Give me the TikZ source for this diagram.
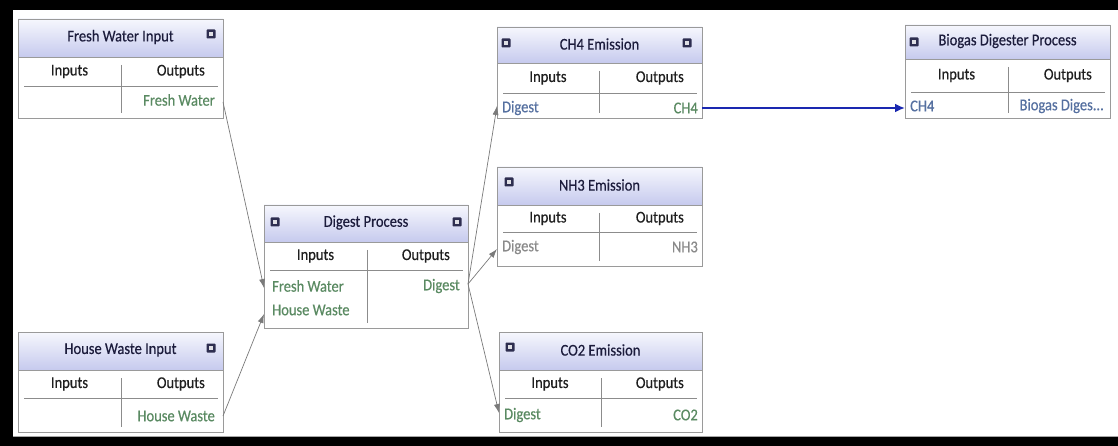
\documentclass[tikz,border=0pt]{standalone}
\usepackage{fontspec}
\setmainfont{Carlito}[FakeStretch=0.88,FakeBold=0.4]
\usetikzlibrary{arrows.meta,fit}
\definecolor{hdrtop}{HTML}{F6F7FD}
\definecolor{hdrbot}{HTML}{C6CAEE}
\definecolor{boxc}{HTML}{9A9A9A}
\definecolor{divc}{HTML}{8C8C8C}
\definecolor{titlec}{HTML}{1C1C3C}
\definecolor{rowg}{HTML}{5A8A62}
\definecolor{rowgray}{HTML}{8A8A8A}
\definecolor{rowb}{HTML}{5570A0}
\definecolor{iconc}{HTML}{2E2E50}
\definecolor{connc}{HTML}{7A7A7A}
\definecolor{bluec}{HTML}{1A28B0}
\tikzset{
  txt/.style={inner sep=0pt, font=\fontsize{16.5}{19}\selectfont},
  titletxt/.style={txt, text=titlec},
  coltxt/.style={txt, text=black!88},
  rowtxt/.style={txt, text=rowg},
  boxframe/.style={draw=boxc, line width=0.9pt, inner sep=0pt},
  divline/.style={draw=divc, line width=0.9pt},
  conn/.style={draw=connc, line width=0.7pt, -{Latex[length=9pt,width=6pt]}},
  bigconn/.style={draw=bluec, line width=2.4pt, -{Latex[length=10pt,width=9pt]}}
}
\newcommand\pbox[9]{%
  \fill[white] (#2,#3) rectangle (#4,#5);
  \fill[top color=hdrtop,bottom color=hdrbot] (#2,#3) rectangle (#4,#6);
  \draw[boxframe] (#2,#6) -- (#4,#6);
  \node[boxframe, fit={(#2,#3) (#4,#5)}] (#1) {};
  \node[titletxt] (#1-t) at ({(#2+#4)/2},{(#3+#6)/2-1}) {#9};
  \draw[divline] (#2+6,#7) -- (#4-5,#7);
  \draw[divline] (#8,#6+8) -- (#8,#5-5);
  \node[coltxt] (#1-i) at ({(#2+#8)/2},{(#6+#7)/2}) {Inputs};
  \node[coltxt, anchor=east] (#1-o) at (#4-18,{(#6+#7)/2}) {Outputs};
}
\newcommand\boxicon[2]{%
  \fill[iconc, rounded corners=0.8pt] (#1-4.5,#2-4.5) rectangle (#1+4.5,#2+4.5);
  \fill[white!85!iconc] (#1-2,#2-2) rectangle (#1+2,#2+2);
}
\begin{document}
\begin{tikzpicture}[x=1pt,y=-1pt]
\useasboundingbox (0,0) rectangle (1118,446);
\fill[black] (0,0) rectangle (1118,446);
\fill[white] (13,10) rectangle (1118,437);
\draw[gray!70, line width=0.8pt] (13,436) -- (1118,436);

% boxes
\pbox{fwi}{18}{19}{223}{118}{57}{86}{121}{Fresh Water Input}
\pbox{hwi}{18}{332}{223}{432}{370}{398}{121}{House Waste Input}
\pbox{dp}{264}{205}{468}{328}{242}{270}{367}{Digest Process}
\pbox{ch}{497}{27}{702}{118}{63}{93}{599}{CH4 Emission}
\pbox{nh}{497}{167}{702}{266}{205}{232}{599}{NH3 Emission}
\pbox{co}{499}{332}{702}{432}{370}{398}{601}{CO2 Emission}
\pbox{bg}{905}{25}{1110}{118}{59}{92}{1008}{Biogas Digester Process}

% icons
\boxicon{211}{34}
\boxicon{211}{348}
\boxicon{275}{222}
\boxicon{457}{222}
\boxicon{506}{43}
\boxicon{687}{43}
\boxicon{509}{182}
\boxicon{510}{347}
\boxicon{914}{42}

% row texts
\node[rowtxt, anchor=east] (fwi-r1) at (215,100) {Fresh Water};
\node[rowtxt, anchor=east] (hwi-r1) at (215,416) {House Waste};
\node[rowtxt, anchor=west] (dp-r1) at (272,286) {Fresh Water};
\node[rowtxt, anchor=west] (dp-r2) at (272,310) {House Waste};
\node[rowtxt, anchor=east] (dp-r3) at (460,286) {Digest};
\node[rowtxt, text=rowb, anchor=west] (ch-r1) at (502,108) {Digest};
\node[rowtxt, text=rowg, anchor=east] (ch-r2) at (698,108) {CH4};
\node[rowtxt, text=rowgray, anchor=west] (nh-r1) at (502,247) {Digest};
\node[rowtxt, text=rowgray, anchor=east] (nh-r2) at (698,247) {NH3};
\node[rowtxt, anchor=west] (co-r1) at (504,415) {Digest};
\node[rowtxt, anchor=east] (co-r2) at (698,415) {CO2};
\node[rowtxt, text=rowb, anchor=west] (bg-r1) at (910,106) {CH4};
\node[rowtxt, text=rowb, anchor=east] (bg-r2) at (1104,106) {Biogas Diges...};

% ports
\coordinate (fwi-out) at (223,102);
\coordinate (hwi-out) at (223,416);
\coordinate (dp-in1) at (264,288);
\coordinate (dp-in2) at (264,314);
\coordinate (dp-out) at (468,284);
\coordinate (ch-in) at (497,106);
\coordinate (nh-in) at (497,249);
\coordinate (co-in) at (499,413);
\coordinate (ch-out) at (702,108);
\coordinate (bg-in) at (905,108);

% connectors
\draw[conn] (fwi-out) -- (dp-in1);
\draw[conn] (hwi-out) -- (dp-in2);
\draw[conn] (dp-out) -- (ch-in);
\draw[conn] (dp-out) -- (nh-in);
\draw[conn] (dp-out) -- (co-in);
\draw[bigconn] (ch-out) -- (bg-in);
\end{tikzpicture}
\end{document}
